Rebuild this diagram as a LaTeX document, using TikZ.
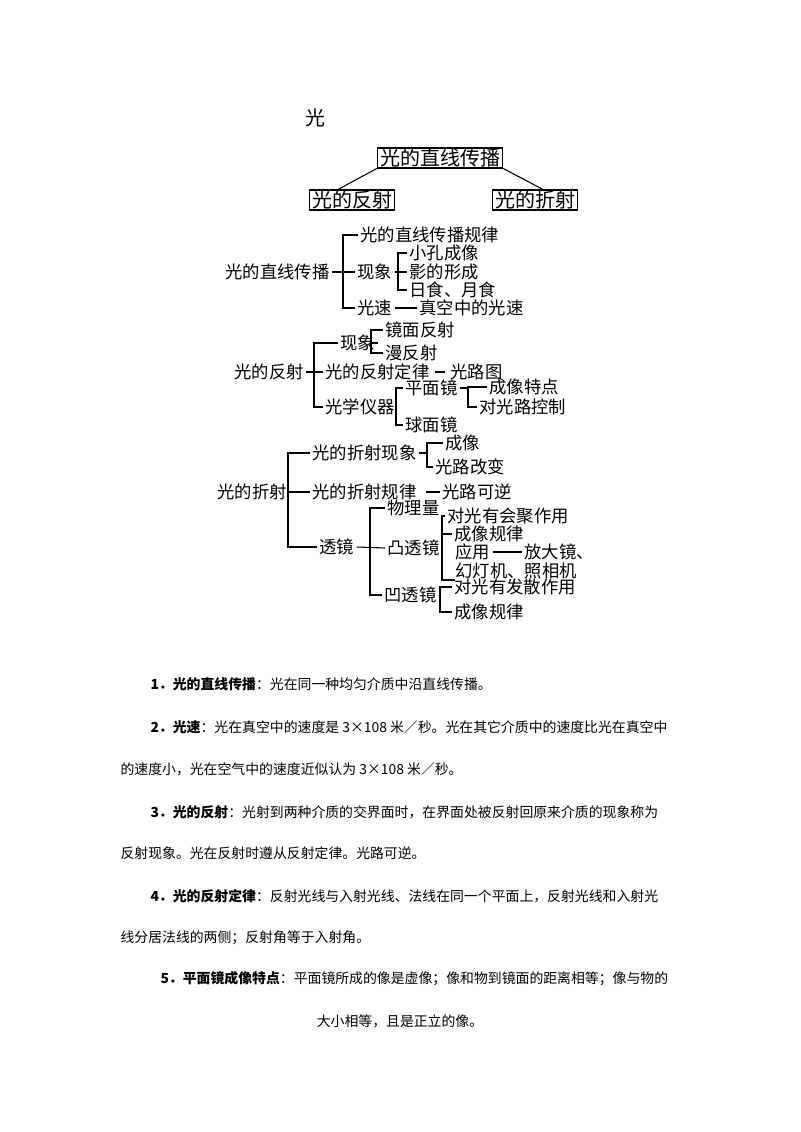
\documentclass[tikz,border=0pt]{standalone}
\usepackage{fontspec}
\setmainfont{Noto Sans CJK SC}
\usepackage{tikz}
\usetikzlibrary{calc}

\begin{document}
\begin{tikzpicture}[x=0.75pt, y=-0.75pt, line width=0.8pt,
    hbox/.style={draw, line width=0.9pt, inner xsep=2pt, inner ysep=0.5pt, font=\fontsize{15}{15}\selectfont},
    item/.style={anchor=west, inner xsep=1.5pt, inner ysep=0pt, font=\fontsize{13}{13}\selectfont},
    para/.style={anchor=west, inner sep=0pt, font=\fontsize{10.4}{10.4}\selectfont}]
  \path[use as bounding box] (0,0) rectangle (800,1132);
  \node[font=\fontsize{15}{15}\selectfont] (title) at (315,118) {光};

  % top boxes
  \node[hbox] (top) at (440,158) {光的直线传播};
  \node[hbox] (fs) at (352,200) {光的反射};
  \node[hbox] (zs) at (535,200) {光的折射};
  \draw (top.south west) -- ($(fs.north)+(-14,0)$);
  \draw (top.south east) -- ($(zs.north)+(8,0)$);

  % 光的直线传播
  \node[item] (a0) at (223,272) {光的直线传播};
  \node[item] (a1) at (358,235) {光的直线传播规律};
  \node[item] (a2) at (355,272) {现象};
  \node[item] (a21) at (407,253) {小孔成像};
  \node[item] (a22) at (407,272) {影的形成};
  \node[item] (a23) at (407,290) {日食、月食};
  \node[item] (a3) at (355,308) {光速};
  \node[item] (a31) at (417,308) {真空中的光速};
  \coordinate (ab) at (343,272);
  \coordinate (ac) at (398,272);
  \draw (a0.east) -- (a2.west);
  \draw (a1.west) -| (ab) |- (a3.west);
  \draw (a2.east) -- (a22.west);
  \draw (a21.west) -| (ac) |- (a23.west);
  \draw (a3.east) -- (a31.west);

  % 光的反射
  \node[item] (b0) at (232,372) {光的反射};
  \node[item] (b1) at (338,343) {现象};
  \node[item] (b11) at (383,330) {镜面反射};
  \node[item] (b12) at (383,353) {漫反射};
  \node[item] (b2) at (323,372) {光的反射定律};
  \node[item] (b21) at (448,372) {光路图};
  \node[item] (b3) at (323,407) {光学仪器};
  \node[item] (b31) at (403,388) {平面镜};
  \node[item] (b311) at (487,387) {成像特点};
  \node[item] (b312) at (477,407) {对光路控制};
  \node[item] (b32) at (403,425) {球面镜};
  \coordinate (bb) at (314,372);
  \coordinate (bc) at (371,343);
  \coordinate (bd) at (396,407);
  \coordinate (be) at (468,397);
  \draw (b0.east) -- (b2.west);
  \draw (b1.west) -| (bb) |- (b3.west);
  \draw (b1.east) -- (bc);
  \draw (b11.west) -| (bc) |- (b12.west);
  \draw[shorten <=2pt, shorten >=2pt] (b2.east) -- (b21.west);
  \draw (b31.west) -| (bd) |- (b32.west);
  \draw (b31.east) -- (b31.east -| be);
  \draw (b311.west) -| (be) |- (b312.west);

  % 光的折射
  \node[item] (c0) at (215,492) {光的折射};
  \node[item] (c1) at (310,453) {光的折射现象};
  \node[item] (c11) at (443,443) {成像};
  \node[item] (c12) at (433,467) {光路改变};
  \node[item] (c2) at (310,492) {光的折射规律};
  \node[item] (c21) at (440,492) {光路可逆};
  \node[item] (c3) at (317,547) {透镜};
  \node[item] (c31) at (385,508) {物理量};
  \node[item] (c32) at (385,548) {凸透镜};
  \node[item] (c321) at (445,516) {对光有会聚作用};
  \node[item] (c322) at (452,534) {成像规律};
  \node[item] (c323) at (453,552) {应用};
  \node[item] (c324) at (522,552) {放大镜、};
  \node[item] (c325) at (453,571) {幻灯机、照相机};
  \node[item] (c33) at (382,595) {凹透镜};
  \node[item] (c331) at (452,587) {对光有发散作用};
  \node[item] (c332) at (452,612) {成像规律};
  \coordinate (cb) at (288,492);
  \coordinate (cc) at (427,453);
  \coordinate (cd) at (370,547);
  \coordinate (ce) at (442,548);
  \coordinate (cf) at (455,580);
  \coordinate (cg) at (440,597);
  \draw (c0.east) -- (c2.west);
  \draw (c1.west) -| (cb) |- (c3.west);
  \draw (c1.east) -- (cc);
  \draw (c11.west) -| (cc) |- (c12.west);
  \draw[shorten <=5pt] (c2.east) -- (c21.west);
  \draw (c3.east) -- (c32.west);
  \draw (c31.west) -| (cd) |- (c33.west);
  \draw (c32.east) -- (ce);
  \draw (c321.west) -| (ce) |- (cf);
  \draw (c322.west) -- (c322.west -| ce);
  \draw (c323.east) -- (c324.west);
  \draw (c33.east) -- (cg);
  \draw (c331.west) -| (cg) |- (c332.west);

  % text below
  \node[para] (p1) at (150,684) {\textbf{1．光的直线传播}：光在同一种均匀介质中沿直线传播。};
  \node[para] (p2) at (150,727) {\textbf{2．光速}：光在真空中的速度是 3×108 米／秒。光在其它介质中的速度比光在真空中};
  \node[para] (p3) at (120,769) {的速度小，光在空气中的速度近似认为 3×108 米／秒。};
  \node[para] (p4) at (150,812) {\textbf{3．光的反射}：光射到两种介质的交界面时，在界面处被反射回原来介质的现象称为};
  \node[para] (p5) at (120,853) {反射现象。光在反射时遵从反射定律。光路可逆。};
  \node[para] (p6) at (150,896) {\textbf{4．光的反射定律}：反射光线与入射光线、法线在同一个平面上，反射光线和入射光};
  \node[para] (p7) at (120,938) {线分居法线的两侧；反射角等于入射角。};
  \node[para] (p8) at (160,979) {\textbf{5．平面镜成像特点}：平面镜所成的像是虚像；像和物到镜面的距离相等；像与物的};
  \node[para, anchor=center] (p9) at (400,1021) {大小相等，且是正立的像。};
\end{tikzpicture}
\end{document}
